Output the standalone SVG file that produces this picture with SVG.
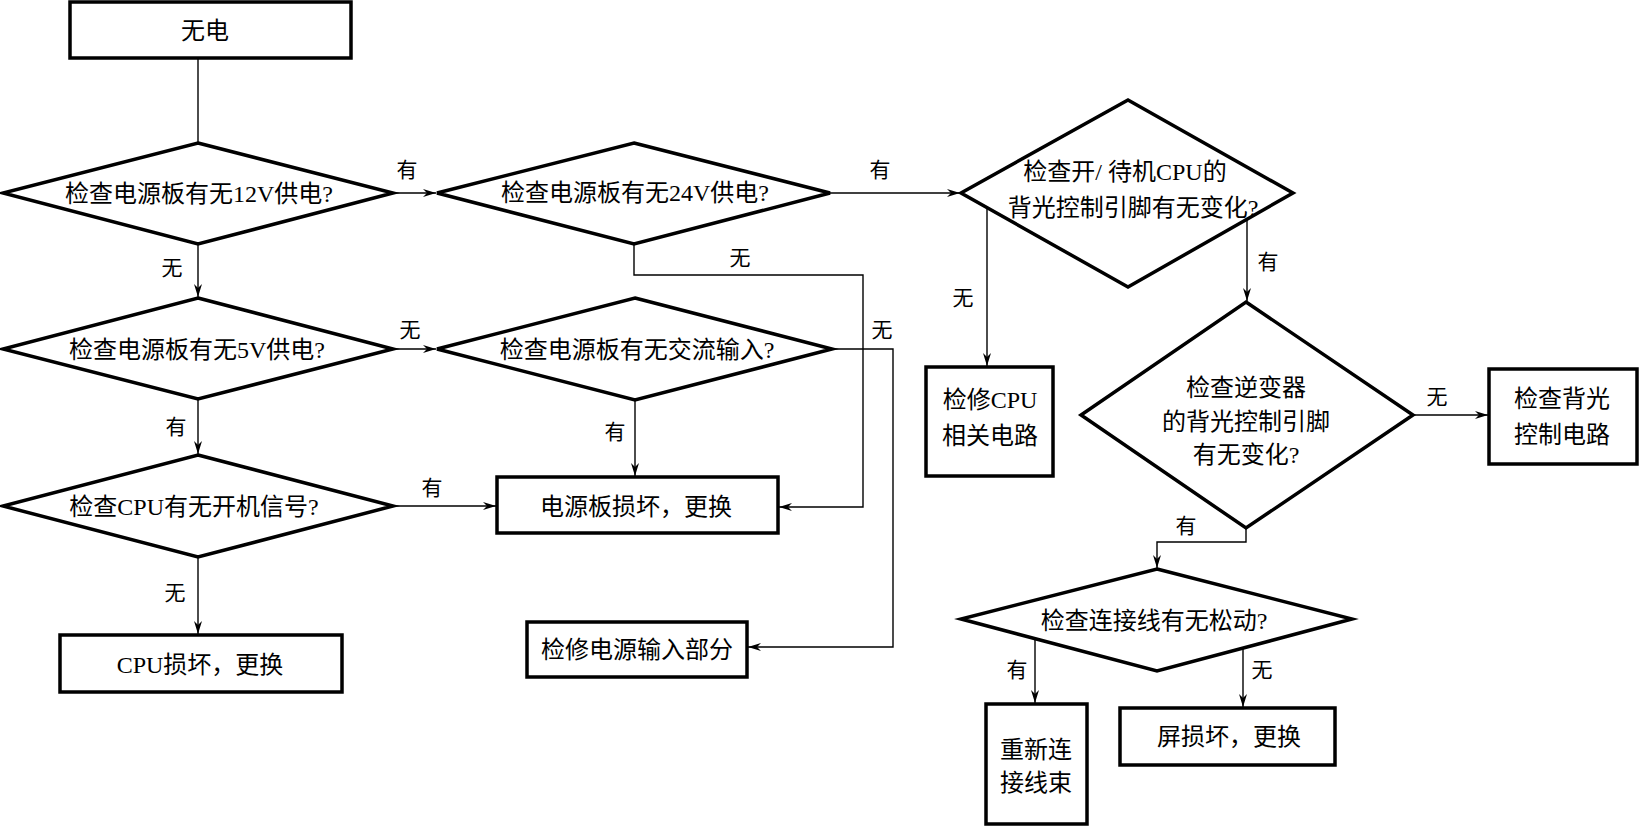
<svg xmlns="http://www.w3.org/2000/svg" width="1639" height="826" viewBox="0 0 1639 826">
<style>
.n{fill:#fff;stroke:#000;stroke-width:3.5}
.c{fill:none;stroke:#000;stroke-width:1.4}
text{font-family:"Liberation Serif","Noto Sans CJK SC",serif;fill:#000;text-anchor:middle;dominant-baseline:central}
.t{font-size:24px}
.l{font-size:21px}
</style>
<defs>
<marker id="a" markerUnits="userSpaceOnUse" markerWidth="14" markerHeight="10" refX="13" refY="4" orient="auto">
<path d="M0,0 L13,4 L0,8 L4,4 z" fill="#000"/>
</marker>
</defs>
<rect width="1639" height="826" fill="#fff"/>
<g id="connectors">
<path class="c" d="M198,58 V143"/>
<path class="c" d="M393,193 H436" marker-end="url(#a)"/>
<path class="c" d="M198,244 V297" marker-end="url(#a)"/>
<path class="c" d="M830,193 H960" marker-end="url(#a)"/>
<path class="c" d="M634,244 V275 H863 V507 H779" marker-end="url(#a)"/>
<path class="c" d="M393,349 H436" marker-end="url(#a)"/>
<path class="c" d="M198,399 V454" marker-end="url(#a)"/>
<path class="c" d="M635,400 V476" marker-end="url(#a)"/>
<path class="c" d="M832,349 H893 V647 H748" marker-end="url(#a)"/>
<path class="c" d="M393,506 H496" marker-end="url(#a)"/>
<path class="c" d="M198,557 V634" marker-end="url(#a)"/>
<path class="c" d="M987,208 V366" marker-end="url(#a)"/>
<path class="c" d="M1247,219 V301" marker-end="url(#a)"/>
<path class="c" d="M1413,415 H1488" marker-end="url(#a)"/>
<path class="c" d="M1246,528 V542 H1157 V568" marker-end="url(#a)"/>
<path class="c" d="M1035,639 V703" marker-end="url(#a)"/>
<path class="c" d="M1243,648 V707" marker-end="url(#a)"/>
<text class="l" x="407" y="170">有</text>
<text class="l" x="172" y="268">无</text>
<text class="l" x="880" y="170">有</text>
<text class="l" x="740" y="258">无</text>
<text class="l" x="410" y="330">无</text>
<text class="l" x="176" y="427">有</text>
<text class="l" x="615" y="432">有</text>
<text class="l" x="882" y="330">无</text>
<text class="l" x="432" y="488">有</text>
<text class="l" x="175" y="593">无</text>
<text class="l" x="963" y="298">无</text>
<text class="l" x="1268" y="262">有</text>
<text class="l" x="1437" y="397">无</text>
<text class="l" x="1186" y="526">有</text>
<text class="l" x="1017" y="670">有</text>
<text class="l" x="1262" y="670">无</text>
</g>
<g id="n1"><rect class="n" x="70" y="2" width="281" height="56"/><text class="t" x="205" y="31">无电</text></g>
<g id="n2"><polygon class="n" points="198,143 393,193 198,244 3,193"/><text class="t" x="199" y="194">检查电源板有无12V供电?</text></g>
<g id="n3"><polygon class="n" points="634,143 830,193 634,244 437,193"/><text class="t" x="635" y="193">检查电源板有无24V供电?</text></g>
<g id="n4"><polygon class="n" points="198,298 393,349 198,399 3,349"/><text class="t" x="197" y="350">检查电源板有无5V供电?</text></g>
<g id="n5"><polygon class="n" points="635,298 832,349 635,400 437,349"/><text class="t" x="637" y="350">检查电源板有无交流输入?</text></g>
<g id="n6"><polygon class="n" points="198,455 393,506 198,557 3,506"/><text class="t" x="194" y="507">检查CPU有无开机信号?</text></g>
<g id="n7"><rect class="n" x="60" y="635" width="282" height="57"/><text class="t" x="200" y="665">CPU损坏，更换</text></g>
<g id="n8"><rect class="n" x="497" y="477" width="281" height="56"/><text class="t" x="636" y="507">电源板损坏，更换</text></g>
<g id="n9"><rect class="n" x="527" y="622" width="220" height="55"/><text class="t" x="637" y="650">检修电源输入部分</text></g>
<g id="n10"><polygon class="n" points="1128,100 1293,193 1128,287 961,193"/><text class="t" x="1125" y="172">检查开/ 待机CPU的</text><text class="t" x="1133" y="208">背光控制引脚有无变化?</text></g>
<g id="n11"><rect class="n" x="926" y="367" width="127" height="109"/><text class="t" x="990" y="400">检修CPU</text><text class="t" x="990" y="436">相关电路</text></g>
<g id="n12"><polygon class="n" points="1246,302 1413,415 1246,528 1081,415"/><text class="t" x="1246" y="388">检查逆变器</text><text class="t" x="1246" y="422">的背光控制引脚</text><text class="t" x="1246" y="455">有无变化?</text></g>
<g id="n13"><rect class="n" x="1489" y="369" width="148" height="95"/><text class="t" x="1562" y="399">检查背光</text><text class="t" x="1562" y="435">控制电路</text></g>
<g id="n14"><polygon class="n" points="1157,569 1352,619 1157,671 961,619"/><text class="t" x="1154" y="621">检查连接线有无松动?</text></g>
<g id="n15"><rect class="n" x="986" y="704" width="101" height="120"/><text class="t" x="1036" y="750">重新连</text><text class="t" x="1036" y="783">接线束</text></g>
<g id="n16"><rect class="n" x="1120" y="708" width="215" height="57"/><text class="t" x="1229" y="737">屏损坏，更换</text></g>
</svg>
